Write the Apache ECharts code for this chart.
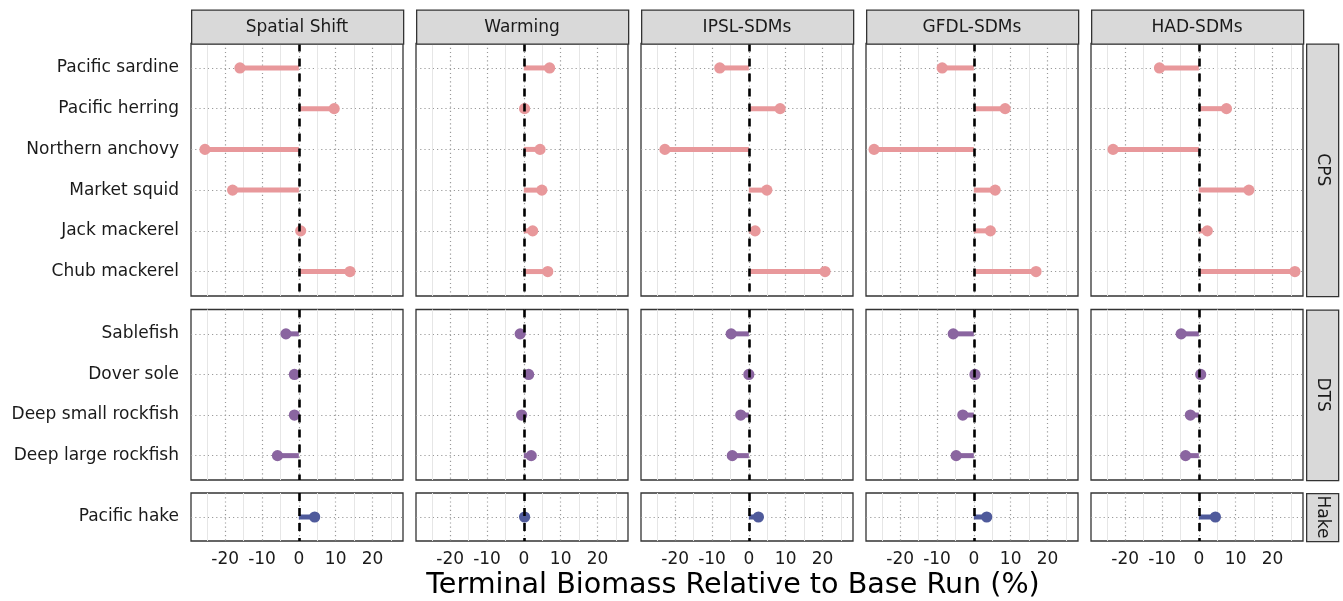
<!DOCTYPE html>
<html>
<head>
<meta charset="utf-8">
<script src="https://cdn.jsdelivr.net/npm/echarts@6/dist/echarts.min.js"></script>
<style>
  html, body { margin: 0; padding: 0; background: #fff; }
  #chart { width: 1343px; height: 601px; }
</style>
</head>
<body>
<div id="chart"></div>
<script>
// ---------- data ----------
const scenarios = ['Spatial Shift', 'Warming', 'IPSL-SDMs', 'GFDL-SDMs', 'HAD-SDMs'];
const groups = ['CPS', 'DTS', 'Hake'];
const cpsSpecies = ['Pacific sardine', 'Pacific herring', 'Northern anchovy', 'Market squid', 'Jack mackerel', 'Chub mackerel'];
const dtsSpecies = ['Sablefish', 'Dover sole', 'Deep small rockfish', 'Deep large rockfish'];
const hakeSpecies = ['Pacific hake'];

// values (% change in terminal biomass), one array per scenario x group
const cpsSpatialShift = [-16.0, 9.6, -25.5, -18.0, 0.5, 13.9];
const cpsWarming      = [7.0, 0.2, 4.4, 4.9, 2.4, 6.5];
const cpsIPSL         = [-7.9, 8.5, -22.8, 4.9, 1.7, 20.7];
const cpsGFDL         = [-8.6, 8.5, -27.1, 5.8, 4.5, 16.9];
const cpsHAD          = [-10.7, 7.5, -23.3, 13.6, 2.3, 26.1];

const dtsSpatialShift = [-3.5, -1.2, -1.2, -5.8];
const dtsWarming      = [-1.0, 1.3, -0.6, 2.0];
const dtsIPSL         = [-4.8, 0.0, -2.2, -4.5];
const dtsGFDL         = [-5.6, 0.3, -3.0, -4.8];
const dtsHAD          = [-4.8, 0.5, -2.3, -3.6];

const hakeSpatialShift = [4.3];
const hakeWarming      = [0.2];
const hakeIPSL         = [2.6];
const hakeGFDL         = [3.5];
const hakeHAD          = [4.5];

const xTitle = 'Terminal Biomass Relative to Base Run (%)';

// ---------- assembly ----------
const groupSpecies = [cpsSpecies, dtsSpecies, hakeSpecies];
const groupValues = [
  [cpsSpatialShift, cpsWarming, cpsIPSL, cpsGFDL, cpsHAD],
  [dtsSpatialShift, dtsWarming, dtsIPSL, dtsGFDL, dtsHAD],
  [hakeSpatialShift, hakeWarming, hakeIPSL, hakeGFDL, hakeHAD]
];
const groupColors = ['#E8989B', '#8A65A0', '#4F5A9B'];

// layout
const colLeft = [191, 416, 641, 866, 1091];
const colWidth = 212;
const rowTop = [43.5, 309.5, 493];
const rowHeight = [252.5, 170.5, 48];
const stripTop = 9.5, stripH = 34;
const rStripX = 1306, rStripW = 32;
const textColor = '#1a1a1a';
const font = 'DejaVu Sans';
const gridDot = { color: '#9a9a9a', type: [1.2, 3], width: 1.2 };

const grids = [], xAxes = [], yAxes = [], series = [], graphics = [];

function renderLollipop(params, api) {
  const v = api.value(0), y = api.value(1);
  const p0 = api.coord([0, y]);
  const p1 = api.coord([v, y]);
  const color = api.visual('color');
  return {
    type: 'group',
    children: [
      { type: 'line', shape: { x1: p0[0], y1: p0[1], x2: p1[0], y2: p1[1] },
        style: { stroke: color, lineWidth: 5 } },
      { type: 'circle', shape: { cx: p1[0], cy: p1[1], r: 5.6 }, style: { fill: color } }
    ]
  };
}

let gi = 0;
for (let r = 0; r < groups.length; r++) {
  const sp = groupSpecies[r];
  const n = sp.length;
  for (let c = 0; c < scenarios.length; c++) {
    grids.push({
      left: colLeft[c], top: rowTop[r], width: colWidth, height: rowHeight[r],
      show: true, backgroundColor: '#fff', borderColor: '#333', borderWidth: 1.3,
      containLabel: false
    });
    xAxes.push({
      gridIndex: gi, type: 'value', min: -29.3, max: 28.3, splitNumber: 5,
      axisLine: { show: false }, axisTick: { show: false },
      axisLabel: { show: r === groups.length - 1, fontSize: 17, color: textColor, fontFamily: font,
                   margin: 10, showMinLabel: false, showMaxLabel: false },
      splitLine: { show: true, showMinLine: false, showMaxLine: false, lineStyle: gridDot },
      minorTick: { show: false, splitNumber: 2 },
      minorSplitLine: { show: true, lineStyle: { color: '#e6e6e6', width: 1 } }
    });
    yAxes.push({
      gridIndex: gi, type: 'value', inverse: true, min: 0.4, max: n + 0.6, splitNumber: n,
      axisLine: { show: false }, axisTick: { show: false },
      axisLabel: {
        show: c === 0, fontSize: 17, color: textColor, fontFamily: font, margin: 12,
        padding: [3, 0, 0, 0],
        showMinLabel: false, showMaxLabel: false,
        formatter: function (v) {
          const k = Math.round(v);
          return Math.abs(v - k) < 1e-6 && k >= 1 && k <= n ? sp[k - 1] : '';
        }
      },
      splitLine: { show: true, showMinLine: false, showMaxLine: false, lineStyle: gridDot }
    });
    const vals = groupValues[r][c];
    series.push({
      type: 'custom', xAxisIndex: gi, yAxisIndex: gi,
      renderItem: renderLollipop,
      itemStyle: { color: groupColors[r] },
      encode: { x: 0, y: 1 },
      data: vals.map((v, i) => [v, i + 1]),
      silent: true, animation: false,
      markLine: {
        silent: true, symbol: ['none', 'none'], label: { show: false }, animation: false,
        lineStyle: { color: '#000', type: [8, 7], width: 2.6 },
        data: [{ xAxis: 0 }]
      }
    });
    gi++;
  }
}

// column strips (top)
for (let c = 0; c < scenarios.length; c++) {
  graphics.push({
    type: 'rect', left: colLeft[c], top: stripTop,
    shape: { width: colWidth, height: stripH },
    style: { fill: '#d9d9d9', stroke: '#333', lineWidth: 1.3 }, z: 10
  });
  graphics.push({
    type: 'text', x: colLeft[c] + colWidth / 2, y: stripTop + stripH / 2 + 1,
    style: { text: scenarios[c], fill: textColor, font: '17px "DejaVu Sans"',
             textAlign: 'center', textVerticalAlign: 'middle' }, z: 11
  });
}
// row strips (right)
for (let r = 0; r < groups.length; r++) {
  graphics.push({
    type: 'rect', left: rStripX, top: rowTop[r],
    shape: { width: rStripW, height: rowHeight[r] },
    style: { fill: '#d9d9d9', stroke: '#333', lineWidth: 1.3 }, z: 10
  });
  graphics.push({
    type: 'text', x: rStripX + rStripW / 2, y: rowTop[r] + rowHeight[r] / 2,
    rotation: -Math.PI / 2,
    style: { text: groups[r], fill: textColor, font: '17px "DejaVu Sans"',
             textAlign: 'center', textVerticalAlign: 'middle' }, z: 11
  });
}
// x axis title
graphics.push({
  type: 'text', x: 733, y: 586,
  style: { text: xTitle, fill: '#000', font: '28.6px "DejaVu Sans"',
           textAlign: 'center', textVerticalAlign: 'middle' }, z: 11
});

const chart = echarts.init(document.getElementById('chart'), null, { renderer: 'canvas' });
chart.setOption({
  animation: false,
  backgroundColor: '#fff',
  textStyle: { fontFamily: font },
  grid: grids,
  xAxis: xAxes,
  yAxis: yAxes,
  series: series,
  graphic: graphics
});
</script>
</body>
</html>
